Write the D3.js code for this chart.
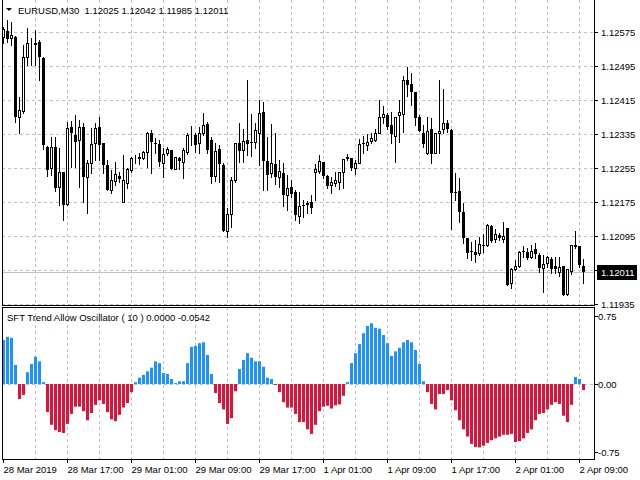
<!DOCTYPE html>
<html><head><meta charset="utf-8">
<script src="https://cdn.jsdelivr.net/npm/d3@7/dist/d3.min.js"></script>
<style>body{margin:0;background:#fff}svg{display:block}text{font-family:"Liberation Sans",Arial,sans-serif;font-size:9.5px}</style>
</head><body><svg id="c" width="640" height="480"></svg>
<script>
const symbolTitle = "EURUSD,M30  1.12025 1.12042 1.11985 1.12011";
const oscTitle = "SFT Trend Allow Oscillator ( 10 ) 0.0000 -0.0542";
const timeLabels = ["28 Mar 2019","28 Mar 17:00","29 Mar 01:00","29 Mar 09:00","29 Mar 17:00","1 Apr 01:00","1 Apr 09:00","1 Apr 17:00","2 Apr 01:00","2 Apr 09:00"];
const priceTicks = [1.12575,1.12495,1.12415,1.12335,1.12255,1.12175,1.12095,1.12015,1.11935];
const priceLabels = ["1.12575","1.12495","1.12415","1.12335","1.12255","1.12175","1.12095","","1.11935"];
const lastPrice = 1.12011;
const oscTicks = [0.75,0,-0.75];
const oscTickLabels = ["0.75","0.00","-0.75"];
// candles: [open, high, low, close]
const candles = [
[1.12564,1.12586,1.12549,1.12581],[1.12577,1.12603,1.12551,1.12558],[1.12561,1.12598,1.12544,1.12568],[1.12563,1.12565,1.12363,1.12375],
[1.12375,1.12422,1.12337,1.12391],[1.12389,1.12544,1.12384,1.12516],[1.12516,1.12584,1.12497,1.12549],[1.12544,1.12561,1.12497,1.12545],
[1.12549,1.12579,1.12497,1.12544],[1.12551,1.12556,1.12462,1.12516],[1.12514,1.12516,1.12299,1.12309],[1.12304,1.12306,1.12236,1.12250],
[1.12255,1.12328,1.12238,1.12304],[1.12304,1.12328,1.12201,1.12208],[1.12210,1.12302,1.12168,1.12245],[1.12245,1.12245,1.12132,1.12168],
[1.12170,1.12363,1.12168,1.12349],[1.12351,1.12365,1.12257,1.12337],[1.12332,1.12379,1.12257,1.12316],[1.12321,1.12368,1.12210,1.12351],
[1.12351,1.12361,1.12175,1.12234],[1.12234,1.12274,1.12149,1.12266],[1.12266,1.12349,1.12243,1.12311],[1.12314,1.12361,1.12274,1.12349],
[1.12351,1.12375,1.12274,1.12309],[1.12314,1.12314,1.12243,1.12262],[1.12262,1.12274,1.12203,1.12203],[1.12203,1.12250,1.12196,1.12226],
[1.12224,1.12269,1.12215,1.12241],[1.12236,1.12245,1.12222,1.12229],[1.12175,1.12285,1.12175,1.12226],[1.12219,1.12255,1.12208,1.12252],
[1.12250,1.12281,1.12245,1.12278],[1.12276,1.12285,1.12266,1.12276],[1.12281,1.12290,1.12264,1.12276],[1.12278,1.12295,1.12276,1.12292],
[1.12292,1.12339,1.12257,1.12337],[1.12337,1.12344,1.12243,1.12316],[1.12314,1.12325,1.12290,1.12313],[1.12311,1.12321,1.12259,1.12269],
[1.12266,1.12302,1.12234,1.12288],[1.12290,1.12304,1.12285,1.12299],[1.12297,1.12297,1.12252,1.12252],[1.12252,1.12281,1.12252,1.12281],
[1.12278,1.12281,1.12252,1.12271],[1.12269,1.12302,1.12231,1.12297],[1.12292,1.12337,1.12288,1.12332],[1.12332,1.12354,1.12309,1.12333],
[1.12332,1.12337,1.12292,1.12309],[1.12314,1.12351,1.12290,1.12337],[1.12337,1.12384,1.12332,1.12356],[1.12358,1.12363,1.12290,1.12297],
[1.12321,1.12328,1.12219,1.12234],[1.12236,1.12314,1.12224,1.12295],[1.12299,1.12309,1.12222,1.12264],[1.12262,1.12266,1.12106,1.12106],
[1.12106,1.12161,1.12092,1.12146],[1.12146,1.12234,1.12116,1.12226],[1.12226,1.12314,1.12222,1.12314],[1.12314,1.12361,1.12269,1.12295],
[1.12297,1.12346,1.12269,1.12318],[1.12321,1.12462,1.12285,1.12311],[1.12316,1.12382,1.12283,1.12315],[1.12316,1.12361,1.12302,1.12344],
[1.12337,1.12415,1.12262,1.12384],[1.12386,1.12410,1.12203,1.12271],[1.12271,1.12328,1.12203,1.12238],[1.12243,1.12358,1.12234,1.12266],
[1.12264,1.12337,1.12217,1.12234],[1.12234,1.12274,1.12210,1.12248],[1.12243,1.12266,1.12165,1.12191],[1.12191,1.12238,1.12156,1.12208],
[1.12210,1.12226,1.12186,1.12194],[1.12198,1.12203,1.12132,1.12144],[1.12142,1.12198,1.12125,1.12165],[1.12168,1.12179,1.12139,1.12167],
[1.12170,1.12177,1.12149,1.12172],[1.12175,1.12191,1.12149,1.12161],[1.12245,1.12264,1.12179,1.12252],[1.12248,1.12285,1.12243,1.12271],
[1.12269,1.12269,1.12231,1.12236],[1.12236,1.12238,1.12208,1.12212],[1.12215,1.12234,1.12196,1.12222],[1.12219,1.12245,1.12212,1.12226],
[1.12222,1.12245,1.12205,1.12245],[1.12245,1.12276,1.12208,1.12276],[1.12281,1.12288,1.12274,1.12276],[1.12278,1.12278,1.12250,1.12255],
[1.12255,1.12274,1.12241,1.12266],[1.12266,1.12323,1.12266,1.12311],[1.12314,1.12330,1.12290,1.12312],[1.12309,1.12335,1.12297,1.12316],
[1.12318,1.12337,1.12314,1.12325],[1.12321,1.12346,1.12318,1.12337],[1.12337,1.12415,1.12337,1.12375],[1.12375,1.12401,1.12361,1.12382],
[1.12379,1.12384,1.12346,1.12351],[1.12356,1.12386,1.12314,1.12335],[1.12330,1.12375,1.12269,1.12375],[1.12379,1.12415,1.12316,1.12386],
[1.12382,1.12471,1.12339,1.12462],[1.12462,1.12492,1.12424,1.12450],[1.12452,1.12478,1.12403,1.12434],[1.12434,1.12434,1.12356,1.12372],
[1.12375,1.12379,1.12342,1.12342],[1.12337,1.12356,1.12304,1.12311],[1.12290,1.12375,1.12288,1.12342],[1.12346,1.12372,1.12266,1.12288],
[1.12290,1.12337,1.12290,1.12337],[1.12337,1.12462,1.12290,1.12342],[1.12346,1.12441,1.12337,1.12361],[1.12361,1.12368,1.12339,1.12346],
[1.12344,1.12346,1.12111,1.12196],[1.12198,1.12243,1.12179,1.12196],[1.12201,1.12231,1.12128,1.12151],[1.12151,1.12172,1.12078,1.12090],
[1.12090,1.12090,1.12043,1.12055],[1.12059,1.12081,1.12038,1.12057],[1.12057,1.12085,1.12034,1.12050],[1.12055,1.12092,1.12050,1.12076],
[1.12074,1.12099,1.12057,1.12073],[1.12074,1.12123,1.12071,1.12121],[1.12118,1.12121,1.12081,1.12083],[1.12088,1.12111,1.12081,1.12099],
[1.12097,1.12102,1.12085,1.12090],[1.12088,1.12128,1.12081,1.12095],[1.12114,1.12114,1.11979,1.11979],[1.11984,1.12019,1.11972,1.12017],
[1.12017,1.12038,1.12015,1.12024],[1.12024,1.12059,1.12022,1.12057],[1.12059,1.12071,1.12045,1.12058],[1.12057,1.12066,1.12041,1.12043],
[1.12045,1.12073,1.12043,1.12059],[1.12064,1.12078,1.12043,1.12052],[1.12050,1.12055,1.12010,1.12019],[1.12019,1.12050,1.11963,1.12029],
[1.12031,1.12048,1.12022,1.12045],[1.12041,1.12045,1.12008,1.12017],[1.12024,1.12045,1.12008,1.12017],[1.12010,1.12045,1.12001,1.12022],
[1.12024,1.12024,1.11956,1.11956],[1.11958,1.11958,1.11956,1.12017],[1.12012,1.12073,1.12005,1.12073],[1.12073,1.12106,1.12066,1.12069],
[1.12071,1.12071,1.12022,1.12026],[1.12025,1.12042,1.11985,1.12011]];
const osc = [0.485,0.52,0.51,0.21,-0.165,-0.12,0.13,0.22,0.30,0.25,0.02,-0.31,-0.45,-0.51,-0.53,-0.54,-0.44,-0.33,-0.25,-0.25,
-0.30,-0.40,-0.32,-0.23,-0.18,-0.22,-0.31,-0.39,-0.41,-0.34,-0.26,-0.21,-0.09,0.02,0.07,0.10,0.14,0.18,0.25,0.23,
0.12,0.11,0.055,0.01,0.03,0.03,0.23,0.41,0.42,0.45,0.46,0.32,0.11,-0.10,-0.21,-0.28,-0.44,-0.375,-0.08,0.165,
0.265,0.34,0.29,0.25,0.25,0.19,0.07,0.055,-0.01,-0.09,-0.20,-0.26,-0.26,-0.33,-0.42,-0.42,-0.50,-0.55,-0.45,-0.30,
-0.25,-0.24,-0.27,-0.235,-0.225,-0.13,
0.02,0.23,0.34,0.44,0.56,0.64,0.67,0.62,0.61,0.54,0.45,0.31,0.36,0.40,0.46,0.485,0.46,0.375,0.22,0.03,
-0.09,-0.22,-0.28,-0.11,-0.11,-0.066,-0.18,-0.29,-0.40,-0.50,-0.58,-0.66,-0.695,-0.70,-0.68,-0.65,-0.62,-0.60,-0.58,-0.56,
-0.56,-0.55,-0.64,-0.63,-0.60,-0.54,-0.50,-0.40,-0.33,-0.32,-0.28,-0.23,-0.20,-0.22,-0.35,-0.42,-0.23,
0.077,0.055,-0.066];

const svg = d3.select("#c");
const L = 2, R = 594, mainTop = 0, mainBot = 305, oscTop = 307, oscBot = 459;
const x = d3.scaleLinear().domain([0, 145]).range([3, 583]);
const y = d3.scaleLinear().domain([1.12575, 1.11935]).range([32, 304]);
const yo = d3.scaleLinear().domain([0.75, -0.75]).range([316, 452]);
const grid = "#c0c0c0";

// vertical grid
const vg = d3.range(1, 19).map(k => 3 + 32 * k);
[[mainTop, mainBot], [oscTop, oscBot]].forEach(([t, b]) => {
  svg.append("g").selectAll("line").data(vg).join("line")
    .attr("x1", d => d + .5).attr("x2", d => d + .5).attr("y1", t).attr("y2", b)
    .attr("stroke", grid).attr("stroke-dasharray", "3,3");
});
// horizontal grid main
svg.append("g").selectAll("line").data(priceTicks).join("line")
  .attr("x1", L).attr("x2", R).attr("y1", d => Math.round(y(d)) + .5).attr("y2", d => Math.round(y(d)) + .5)
  .attr("stroke", grid).attr("stroke-dasharray", "3,3");
// last price line
svg.append("line").attr("x1", L).attr("x2", R).attr("y1", Math.round(y(lastPrice)) + .5).attr("y2", Math.round(y(lastPrice)) + .5)
  .attr("stroke", "#c0c0c0");
// zero line
svg.append("line").attr("x1", L).attr("x2", R).attr("y1", yo(0) + .5).attr("y2", yo(0) + .5)
  .attr("stroke", grid).attr("stroke-dasharray", "3,3");

// candles
const cg = svg.append("g");
cg.selectAll("line").data(candles).join("line")
  .attr("x1", (d, i) => Math.round(x(i)) + .5).attr("x2", (d, i) => Math.round(x(i)) + .5)
  .attr("y1", d => Math.round(y(d[1]))).attr("y2", d => Math.round(y(d[2])) + 1)
  .attr("stroke", "#000");
cg.selectAll("rect").data(candles).join("rect")
  .attr("x", (d, i) => Math.round(x(i)) - 1 + (d[3] >= d[0] ? .5 : 0))
  .attr("y", d => Math.round(y(Math.max(d[0], d[3]))) + (d[3] >= d[0] ? .5 : 0))
  .attr("width", d => d[3] >= d[0] ? 2 : 3)
  .attr("height", d => Math.max(d[3] >= d[0] ? 0 : 1, Math.round(y(Math.min(d[0], d[3]))) - Math.round(y(Math.max(d[0], d[3])))))
  .attr("fill", d => d[3] >= d[0] ? "#fff" : "#000")
  .attr("stroke", d => d[3] >= d[0] ? "#000" : "none");

// oscillator
svg.append("g").selectAll("rect").data(osc).join("rect")
  .attr("x", (d, i) => Math.round(x(i)) - 1).attr("width", 3)
  .attr("y", d => d >= 0 ? yo(d) : yo(0)).attr("height", d => Math.max(1, Math.abs(yo(d) - yo(0))))
  .attr("fill", d => d >= 0 ? "#1e90ff" : "#dc143c");

// frames
const fr = svg.append("g").attr("stroke", "#000").attr("fill", "none");
fr.append("rect").attr("x", L + .5).attr("y", -1).attr("width", R - L).attr("height", mainBot + 1.5);
fr.append("rect").attr("x", L + .5).attr("y", oscTop + .5).attr("width", R - L).attr("height", oscBot - oscTop);

// price axis
const pa = svg.append("g");
priceTicks.forEach((p, i) => {
  const yy = Math.round(y(p)) + .5;
  pa.append("line").attr("x1", R).attr("x2", R + 4).attr("y1", yy).attr("y2", yy).attr("stroke", "#000");
  if (priceLabels[i]) pa.append("text").attr("x", 601).attr("y", yy + 3.5).text(priceLabels[i]);
});
const ly = Math.round(y(lastPrice));
pa.append("rect").attr("x", 597).attr("y", ly - 7).attr("width", 40).attr("height", 15).attr("fill", "#000");
pa.append("text").attr("x", 601).attr("y", ly + 4).attr("fill", "#fff").text(d3.format(".5f")(lastPrice));
oscTicks.forEach((v, i) => {
  const yy = yo(v) + .5;
  pa.append("line").attr("x1", R).attr("x2", R + 4).attr("y1", yy).attr("y2", yy).attr("stroke", "#000");
  pa.append("text").attr("x", 598).attr("y", yy + 3.5).text(oscTickLabels[i]);
});
// time axis
timeLabels.forEach((t, i) => {
  const xx = Math.round(x(i * 16)) + .5;
  svg.append("line").attr("x1", xx).attr("x2", xx).attr("y1", oscBot).attr("y2", oscBot + 4).attr("stroke", "#000");
  svg.append("text").attr("x", xx).attr("y", 473).text(t);
});
// titles
svg.append("path").attr("d", "M6,8 L12,8 L9,11 Z").attr("fill", "#000");
svg.append("text").attr("x", 18).attr("y", 14).text(symbolTitle).attr("xml:space", "preserve").style("white-space", "pre");
svg.append("text").attr("x", 7).attr("y", 321).text(oscTitle);
</script></body></html>
